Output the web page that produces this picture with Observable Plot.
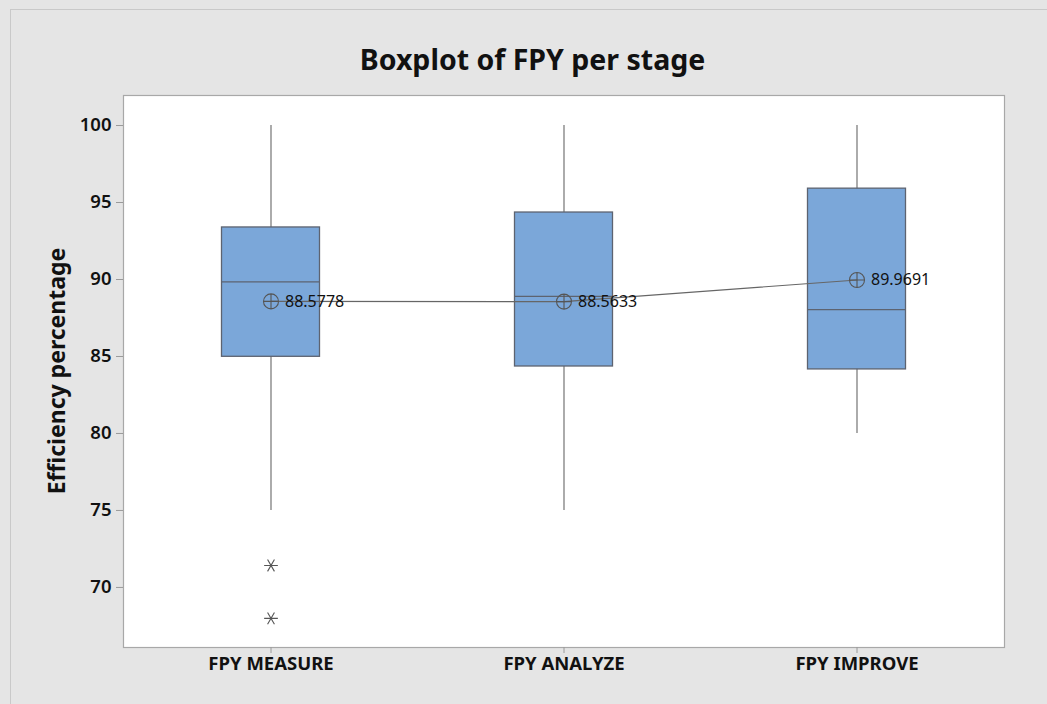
<!DOCTYPE html>
<html>
<head>
<meta charset="utf-8">
<script src="https://cdn.jsdelivr.net/npm/d3@7"></script>
<script src="https://cdn.jsdelivr.net/npm/@observablehq/plot@0.6"></script>
<style>
  html, body { margin: 0; padding: 0; background: #e5e5e5; }
  #wrap { position: relative; width: 1047px; height: 704px; background: #e5e5e5; overflow: hidden; font-family: "Noto Sans", "Open Sans", sans-serif; }
  #border { position: absolute; left: 10px; top: 9px; right: -5px; bottom: -5px; border-left: 1.5px solid #c9c9c9; border-top: 1.5px solid #c9c9c9; }
  #title { position: absolute; left: 14px; width: 1037px; top: 39px; text-align: center; font-size: 28.5px; font-weight: 700; color: #111; line-height: 40px; }
  #ylabel { position: absolute; left: 56px; top: 371px; transform: translate(-50%, -50%) rotate(-90deg); white-space: nowrap; font-size: 23px; font-weight: 700; color: #111; line-height: 30px; }
  #chart { position: absolute; left: 0; top: 0; }
</style>
</head>
<body>
<div id="wrap">
  <div id="border"></div>
  <div id="title">Boxplot of FPY per stage</div>
  <div id="chart"></div>
  <div id="ylabel"></div>
</div>
<script>
const stages = ["FPY MEASURE", "FPY ANALYZE", "FPY IMPROVE"];
const whiskerLow = [75, 75, 80];
const whiskerHigh = [100, 100, 100];
const q1 = [84.98, 84.35, 84.16];
const q3 = [93.38, 94.35, 95.9];
const medians = [89.85, 88.9, 88.05];
const means = [88.5778, 88.5633, 89.9691];
const outlierStage = ["FPY MEASURE", "FPY MEASURE"];
const outlierValues = [71.43, 67.99];
const yTicks = [70, 75, 80, 85, 90, 95, 100];
const yLabel = "Efficiency percentage";

document.getElementById("ylabel").textContent = yLabel;

const boxes = stages.map((s, i) => ({
  stage: s, lo: whiskerLow[i], hi: whiskerHigh[i], q1: q1[i], q3: q3[i], med: medians[i], mean: means[i]
}));
const outliers = outlierValues.map((v, i) => ({stage: outlierStage[i], value: v}));

const circlePlus = {
  draw(ctx, size) {
    const r = Math.sqrt(size / Math.PI);
    ctx.moveTo(r, 0);
    ctx.arc(0, 0, r, 0, 2 * Math.PI);
    ctx.moveTo(-r, 0); ctx.lineTo(r, 0);
    ctx.moveTo(0, -r); ctx.lineTo(0, r);
  }
};

const inset = 97.5;
const chart = Plot.plot({
  width: 1047,
  height: 704,
  marginTop: 95,
  marginBottom: 57,
  marginLeft: 123,
  marginRight: 43,
  style: {background: "transparent", fontFamily: "'Noto Sans', 'Open Sans', sans-serif", color: "#111"},
  x: {type: "band", domain: stages, padding: 0},
  y: {domain: [66.1, 101.95]},
  marks: [
    Plot.frame({fill: "white", stroke: "#a8a8a8", strokeWidth: 1.2}),
    Plot.axisY({ticks: yTicks, tickSize: 7, tickPadding: 5, stroke: "#9a9a9a", fill: "#111", fontSize: 18.5, fontWeight: 600, label: null}),
    Plot.axisX({tickSize: 6, tickPadding: 3, stroke: "#9a9a9a", fill: "#111", fontSize: 18.5, fontWeight: 700, label: null}),
    Plot.ruleX(boxes, {x: "stage", y1: "lo", y2: "hi", stroke: "#747474", strokeWidth: 1.2}),
    Plot.barY(boxes, {x: "stage", y1: "q1", y2: "q3", fill: "#7ba7d9", stroke: "#5d6370", strokeWidth: 1.3, insetLeft: inset, insetRight: inset}),
    Plot.tickY(boxes, {x: "stage", y: "med", stroke: "#5d6370", strokeWidth: 1.3, insetLeft: inset, insetRight: inset}),
    Plot.line(boxes, {x: "stage", y: "mean", stroke: "#666", strokeWidth: 1.1}),
    Plot.dot(boxes, {x: "stage", y: "mean", symbol: circlePlus, r: 7.5, stroke: "#555", strokeWidth: 1.1, fill: "none"}),
    Plot.text(boxes, {x: "stage", y: "mean", text: d => d.mean.toFixed(4), textAnchor: "start", dx: 14, fontSize: 16, fill: "#111"}),
    Plot.dot(outliers, {x: "stage", y: "value", symbol: "asterisk", r: 6.5, rotate: 90, stroke: "#555", strokeWidth: 1.1})
  ]
});
document.getElementById("chart").appendChild(chart);
</script>
</body>
</html>
